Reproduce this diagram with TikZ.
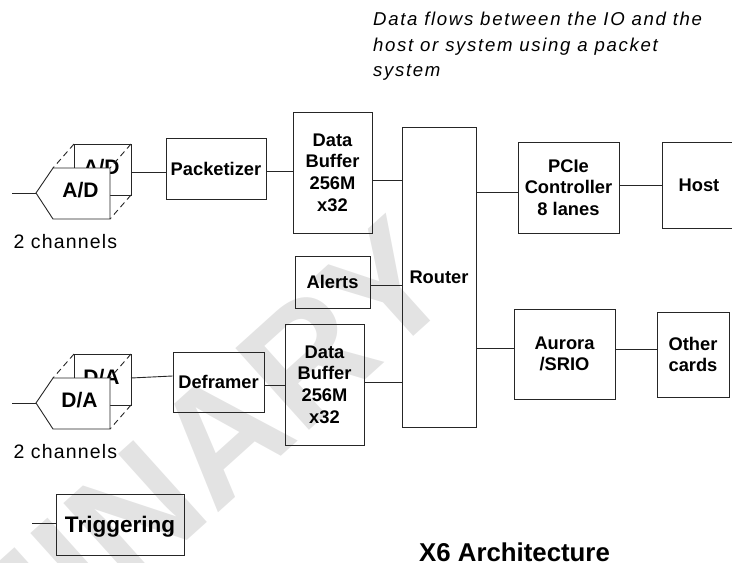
\documentclass[tikz,border=0pt]{standalone}
\usepackage{fontspec}
\setmainfont{Liberation Sans}
\newfontfamily\topfont{Liberation Sans}[LetterSpace=9]
\newfontfamily\chfont{Liberation Sans}[LetterSpace=6]
\newcommand\bxfont{\fontsize{18.3}{21.7}\selectfont\bfseries}
\newcommand\cvfont{\fontsize{21}{24}\selectfont\bfseries}
\newcommand\notefont{\topfont\itshape\fontsize{18.6}{25}\selectfont}
\begin{document}
\begin{tikzpicture}[x=1pt,y=-1pt,
  ln/.style={draw=black!85, line width=0.9pt},
  box/.style={ln, rectangle, inner sep=0pt, align=center, font=\bxfont},
  dsh/.style={ln, dash pattern=on 6pt off 4pt},
  cvtext/.style={anchor=base, inner sep=0pt, font=\cvfont},
  plain/.style={anchor=base west, inner sep=0pt},
  chtext/.style={plain, font=\chfont\fontsize{19.5}{22}\selectfont},
]
\useasboundingbox (0,0) rectangle (732,563);

% watermark
\node[rotate=42, anchor=base east, inner sep=0pt, text=black!11,
      font=\fontsize{160}{160}\selectfont\bfseries] (wm) at (462,293) {PRELIMINARY};

% note and title
\node[plain, font=\notefont] (note1) at (373,25.7) {Data flows between the IO and the};
\node[plain, font=\notefont] (note2) at (373,51) {host or system using a packet};
\node[plain, font=\notefont] (note3) at (373,76.3) {system};
\node[plain, font=\fontsize{25.8}{30}\selectfont\bfseries] (title) at (419,561.7) {X6 Architecture};

% boxes
\node[box, minimum width=100pt, minimum height=61pt] (pack) at (216,168.5) {Packetizer};
\node[box, minimum width=79pt, minimum height=121pt] (db1) at (332.5,172.5) {Data\\Buffer\\256M\\x32};
\node[box, minimum width=74pt, minimum height=300pt] (router) at (439,277) {\raisebox{-4.5pt}{Router}};
\node[box, minimum width=75pt, minimum height=52pt] (alerts) at (332.5,282) {Alerts};
\node[box, minimum width=79pt, minimum height=121pt] (db2) at (324.5,384.5) {Data\\Buffer\\256M\\x32};
\node[box, minimum width=91pt, minimum height=60pt] (defr) at (218.5,382) {Deframer};
\node[box, minimum width=128pt, minimum height=61pt, text depth=0pt,
      font=\fontsize{22.5}{26}\selectfont\bfseries] (trig) at (120,524.5) {Triggering};
\node[box, minimum width=101pt, minimum height=91pt] (pcie) at (568.5,187.5) {PCIe\\Controller\\8 lanes};
\node[box, minimum width=74pt, minimum height=86pt] (host) at (699,185) {Host};
\node[box, minimum width=101pt, minimum height=90pt] (aurora) at (564.5,354) {Aurora\\/SRIO};
\node[box, minimum width=72pt, minimum height=85pt] (other) at (693,354.5) {Other\\cards};

% A/D converter group
\draw[ln, fill=white] (74,195) -- (74,144) -- (131,144) -- (131,195) -- cycle;
\node[cvtext] (adback) at (101.5,174.3) {A/D};
\draw[dsh] (74,144) -- (53,168) (131,144) -- (110,168) (131,195) -- (110,219);
\draw[ln, fill=white] (36,193) -- (53,168) -- (110,168) -- (110,219) -- (53,219) -- cycle;
\node[cvtext] (adfront) at (80.5,197.8) {A/D};
\coordinate (adtip) at (36,193);
\coordinate (adin) at (12,193);
\coordinate (adout) at (131,172);
\node[chtext] (adch) at (13.3,248.3) {2 channels};

% D/A converter group
\draw[ln, fill=white] (74,405) -- (74,354) -- (131,354) -- (131,405) -- cycle;
\node[cvtext] (daback) at (101.5,384.3) {D/A};
\draw[dsh] (74,354) -- (53,378) (131,354) -- (110,378) (131,405) -- (110,429);
\draw[ln, fill=white] (36,403) -- (53,378) -- (110,378) -- (110,429) -- (53,429) -- cycle;
\node[cvtext] (dafront) at (79.5,407.3) {D/A};
\coordinate (datip) at (36,403);
\coordinate (dain) at (12,403);
\coordinate (daout) at (131,378);
\node[chtext] (dach) at (13.3,458.3) {2 channels};

% connectors
\draw[ln] (adin) -- (adtip);
\draw[ln] (adout) -- (adout -| pack.west);
\draw[ln] (pack.east |- 0,171) -- (db1.west |- 0,171);
\draw[ln] (db1.east |- 0,180) -- (router.west |- 0,180);
\draw[ln] (alerts.east |- 0,285) -- (router.west |- 0,285);
\draw[ln] (db2.east |- 0,382) -- (router.west |- 0,382);
\draw[ln] (defr.east |- 0,385) -- (db2.west |- 0,385);
\draw[ln] (dain) -- (datip);
\draw[ln] (daout) -- ([yshift=6pt]defr.west);
\coordinate (trigin) at (32,523);
\draw[ln] (trigin) -- (trigin -| trig.west);
\draw[ln] (router.east |- 0,192) -- (pcie.west |- 0,192);
\draw[ln] (pcie.east |- 0,185) -- (host.west |- 0,185);
\draw[ln] (router.east |- 0,348) -- (aurora.west |- 0,348);
\draw[ln] (aurora.east |- 0,349) -- (other.west |- 0,349);
\end{tikzpicture}
\end{document}
